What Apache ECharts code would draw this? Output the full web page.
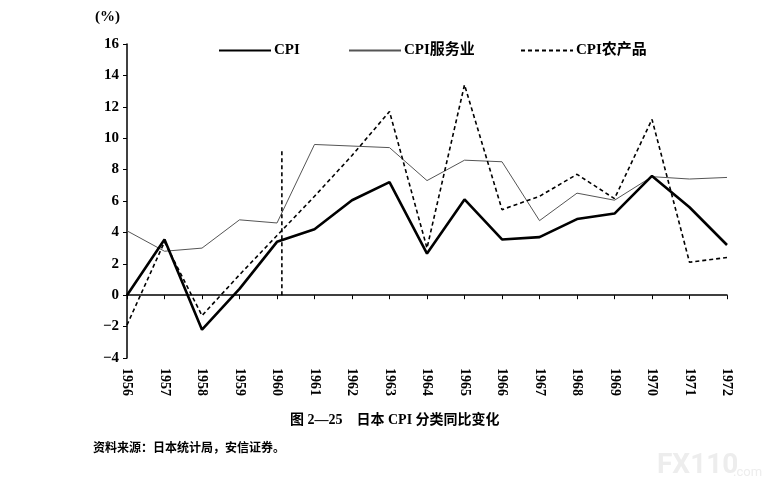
<!DOCTYPE html>
<html>
<head>
<meta charset="utf-8">
<script src="https://cdn.jsdelivr.net/npm/echarts@6/dist/echarts.min.js"></script>
<style>
html,body{margin:0;padding:0;background:#fff;}
#main{width:775px;height:491px;}
</style>
</head>
<body>
<div id="main"></div>
<script>
// 年份与三条序列（同比，%）
var years = [1956,1957,1958,1959,1960,1961,1962,1963,1964,1965,1966,1967,1968,1969,1970,1971,1972];
var cpi      = [0, 3.55, -2.2, 0.4, 3.4, 4.2, 6.05, 7.2, 2.65, 6.1, 3.55, 3.7, 4.85, 5.2, 7.6, 5.6, 3.2];
var cpiServ  = [4.1, 2.8, 3.0, 4.8, 4.6, 9.6, 9.5, 9.4, 7.3, 8.6, 8.5, 4.75, 6.5, 6.05, 7.55, 7.4, 7.5];
var cpiAgri  = [-1.9, 3.4, -1.3, 1.3, 3.8, 6.3, 8.9, 11.7, 3.0, 13.4, 5.45, 6.3, 7.7, 6.15, 11.2, 2.1, 2.4];
// 原图中1960年后的那段竖直虚线
var agriSpike = [[1960.13, 0], [1960.13, 9.2]];
var yTicks = {min: -4, max: 16, step: 2};

var serif = '"Liberation Serif", "Noto Sans CJK SC", serif';

function pairs(vals){
	var out = [];
	for (var i = 0; i < vals.length; i++) out.push([years[i], vals[i]]);
	return out;
}

var option = {
	animation: false,
	backgroundColor: '#fff',
	grid: { left: 127, right: 48, top: 44, bottom: 133 },
	legend: [
		{ data: ['CPI'], left: 213, top: 38 },
		{ data: ['CPI服务业'], left: 343, top: 38 },
		{ data: ['CPI农产品'], left: 515, top: 38 }
	].map(function(l){
		l.itemWidth = 52; l.itemHeight = 14;
		l.itemStyle = { opacity: 0 };   //只显示线，不要圆点
		l.textStyle = { fontFamily: serif, fontWeight: 'bold', fontSize: 15, color: '#000', padding: [0,0,0,-2] };
		return l;
	}),
	xAxis: [{
		// 在0处的横轴线和刻度
		type: 'value', min: years[0], max: years[years.length-1], interval: 1,
		position: 'bottom',
		axisLine: { onZero: true, lineStyle: { color: '#000', width: 1.5 } },
		axisTick: { show: true, length: 4, lineStyle: { color: '#000' } },
		axisLabel: { show: false },
		splitLine: { show: false }
	}, {
		// 底部年份标签
		type: 'value', min: years[0], max: years[years.length-1], interval: 1,
		position: 'bottom',
		axisLine: { show: false, onZero: false },
		axisTick: { show: false },
		axisLabel: {
			rotate: -90, margin: 10, fontFamily: serif, fontWeight: 'bold', fontSize: 14, color: '#000',
			formatter: function(v){ return String(v); }
		},
		splitLine: { show: false }
	}],
	yAxis: {
		type: 'value', min: yTicks.min, max: yTicks.max, interval: yTicks.step,
		axisLine: { show: true, lineStyle: { color: '#000', width: 1.5 } },
		axisTick: { show: true, length: 4, lineStyle: { color: '#000' } },
		axisLabel: {
			margin: 8, fontFamily: serif, fontWeight: 'bold', fontSize: 15, color: '#000',
			formatter: function(v){ return String(v).replace('-', '−'); }
		},
		splitLine: { show: false }
	},
	graphic: [
		{ type: 'text', left: 95, top: 10, style: { text: '(%)', font: 'bold 15px ' + serif, fill: '#000' } },
		{ type: 'text', left: 290, top: 413, style: { text: '图 2—25    日本 CPI 分类同比变化', font: 'bold 14px ' + serif, fill: '#000' } },
		{ type: 'text', left: 93, top: 441, style: { text: '资料来源：日本统计局，安信证券。', font: 'bold 12px "Noto Sans CJK SC"', fill: '#000' } },
		{ type: 'text', left: 657, top: 452, style: { text: 'FX110', font: 'bold 28px "Roboto"', fill: '#ededed' } },
		{ type: 'text', left: 733, top: 466, style: { text: '.com', font: '13px "Roboto"', fill: '#ededed' } }
	],
	series: [{
		name: 'CPI', type: 'line', data: pairs(cpi), symbol: 'none',
		lineStyle: { color: '#000', width: 2.6 }, itemStyle: { color: '#000' }, z: 5
	}, {
		name: 'CPI服务业', type: 'line', data: pairs(cpiServ), symbol: 'none',
		lineStyle: { color: '#555', width: 1 }, itemStyle: { color: '#555' }
	}, {
		name: 'CPI农产品', type: 'line', data: pairs(cpiAgri), symbol: 'none',
		lineStyle: { color: '#000', width: 1.6, type: [4, 3] }, itemStyle: { color: '#000' }
	}, {
		name: 'spike', type: 'line', data: agriSpike, symbol: 'none',
		lineStyle: { color: '#000', width: 1.6, type: [4, 3] }
	}]
};

var chart = echarts.init(document.getElementById('main'));
chart.setOption(option);
</script>
</body>
</html>
